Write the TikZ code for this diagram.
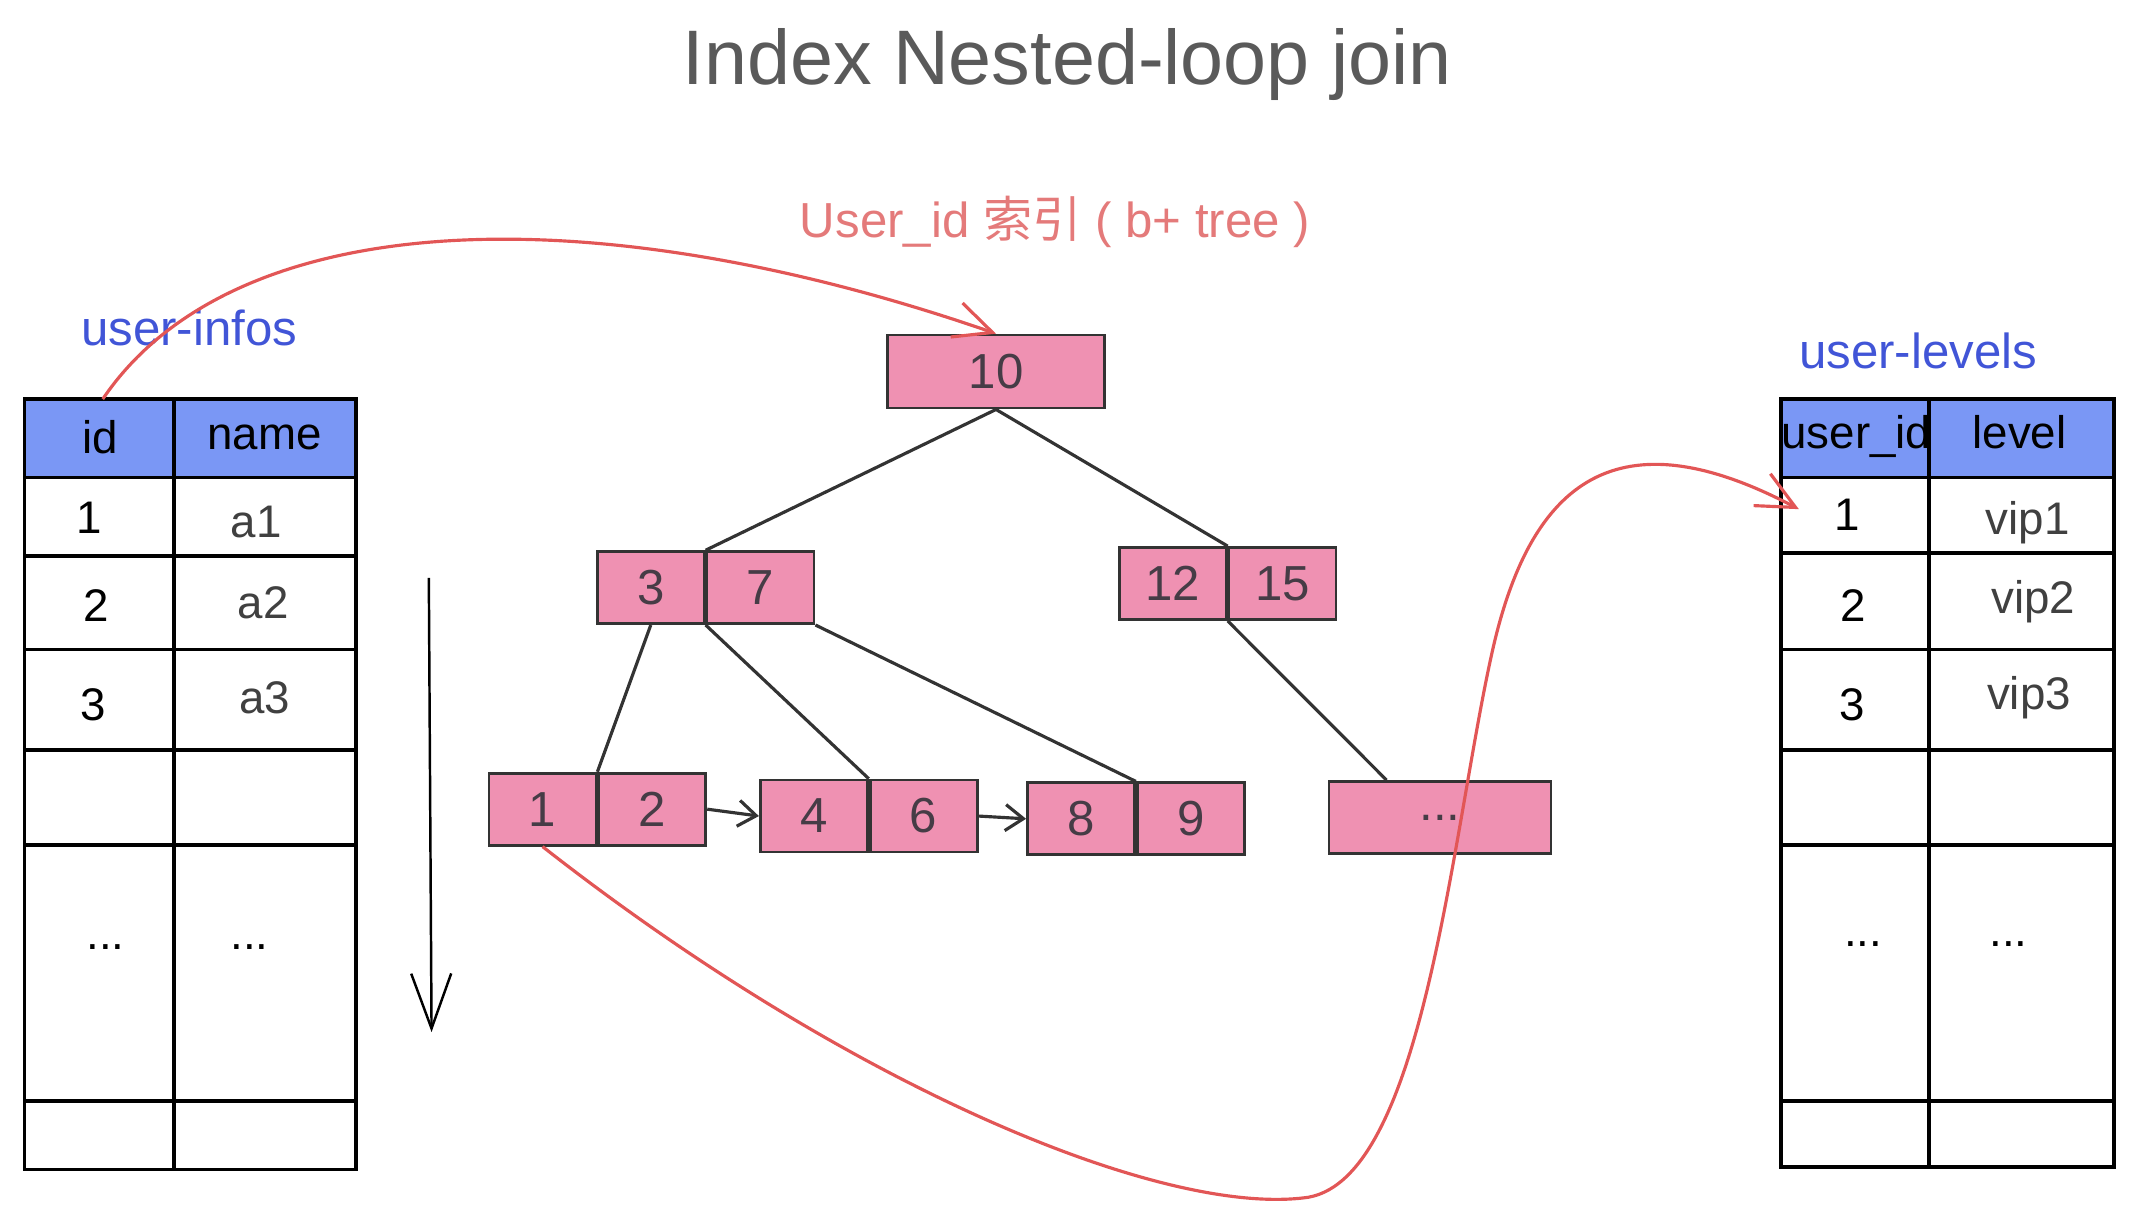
\documentclass[tikz,border=0pt]{standalone}
\usepackage{fontspec}
\setmainfont{Liberation Sans}
\newfontfamily\cjkfont{Noto Sans CJK SC}
\usepackage{xcolor}
\usetikzlibrary{positioning,arrows.meta}
\definecolor{HeadBlue}{RGB}{122,151,245}
\definecolor{KeyPink}{RGB}{239,145,178}
\definecolor{KeyText}{RGB}{70,60,70}
\definecolor{LabelBlue}{RGB}{65,85,215}
\definecolor{IdxRed}{RGB}{228,122,122}
\definecolor{CurveRed}{RGB}{226,86,86}
\definecolor{TitleGray}{RGB}{90,90,90}

\begin{document}
\begin{tikzpicture}[x=0.0137cm, y=-0.01376cm, >=Latex]
      \tikzset{
        key/.style={draw=black!80, line width=0.8pt, fill=KeyPink, minimum width=1.07cm, minimum height=0.72cm, inner sep=0pt, text=KeyText, font=\fontsize{14}{16}\selectfont},
        cellText/.style={font=\fontsize{13}{15}\selectfont, inner sep=1pt},
        cellVal/.style={cellText, text=black!75},
        tblLabel/.style={text=LabelBlue, font=\fontsize{14}{16}\selectfont},
        grid/.style={line width=1pt, draw=black},
        edge/.style={draw=black!80, line width=0.9pt},
        leafArrow/.style={-{Straight Barb[length=1.8mm, width=2.6mm]}, draw=black!80, line width=0.9pt},
        redArrow/.style={-{Straight Barb[length=3.8mm, width=3.6mm]}, draw=CurveRed, line width=0.9pt}
      }
      \useasboundingbox (0,0) rectangle (1562,880);

      \node[text=TitleGray, font=\fontsize{22}{26}\selectfont] (title) at (779,47) {Index Nested-loop join};
      \node[text=IdxRed, font=\fontsize{14}{16}\selectfont] (idxLabel) at (770,161) {User\_id {\cjkfont 索引} ( b+ tree )};

      % user-infos table
      \node[tblLabel] (infoLabel) at (138,238) {user-infos};
      \fill[HeadBlue] (18,290) rectangle (260,347);
      \draw[grid] (18,290) rectangle (260,850);
      \foreach \y in {347,404,472,545,614,800}
        \draw[grid] (18,\y) -- (260,\y);
      \draw[grid] (127,290) -- (127,850);
      \coordinate (infoTop) at (75,290);
      \node[cellText] (infoId) at (73,318) {id};
      \node[cellText] (infoName) at (193,318) {name};
      \node[cellText] (infoOne) at (65,376) {1};
      \node[cellVal] (infoA1) at (187,379) {a1};
      \node[cellText] (infoTwo) at (70,440) {2};
      \node[cellVal] (infoA2) at (192,438) {a2};
      \node[cellText] (infoThree) at (68,512) {3};
      \node[cellVal] (infoA3) at (193,507) {a3};
      \node[cellText] (infoDotsA) at (77,688) {...};
      \node[cellText] (infoDotsB) at (182,688) {...};

      % user-levels table
      \node[tblLabel] (lvlLabel) at (1400,255) {user-levels};
      \fill[HeadBlue] (1300,290) rectangle (1543,347);
      \draw[grid] (1300,290) rectangle (1543,848);
      \foreach \y in {347,402,472,545,614,800}
        \draw[grid] (1300,\y) -- (1543,\y);
      \draw[grid] (1408,290) -- (1408,848);
      \coordinate (lvlRowOne) at (1313,370);
      \node[cellText] (lvlId) at (1355,317) {user\_id};
      \node[cellText] (lvlLevel) at (1474,314) {level};
      \node[cellText] (lvlOne) at (1348,374) {1};
      \node[cellVal] (lvlV1) at (1480,380) {vip1};
      \node[cellText] (lvlTwo) at (1353,440) {2};
      \node[cellVal] (lvlV2) at (1484,437) {vip2};
      \node[cellText] (lvlThree) at (1352,512) {3};
      \node[cellVal] (lvlV3) at (1481,507) {vip3};
      \node[cellText] (lvlDotsA) at (1360,686) {...};
      \node[cellText] (lvlDotsB) at (1466,686) {...};

      % b+ tree
      \node[key, minimum width=2.17cm, minimum height=0.73cm] (root) at (727,270) {10};
      \node[key] (k3) at (475,427) {3};
      \node[key, right=0pt of k3] (k7) {7};
      \node[key] (k12) at (856,424) {12};
      \node[key, right=0pt of k12] (k15) {15};
      \node[key] (k1) at (396,588) {1};
      \node[key, right=0pt of k1] (k2) {2};
      \node[key] (k4) at (594,593) {4};
      \node[key, right=0pt of k4] (k6) {6};
      \node[key] (k8) at (789,595) {8};
      \node[key, right=0pt of k8] (k9) {9};
      \node[key, minimum width=2.22cm] (leafDots) at (1051,594) {...};

      \draw[edge] (root.south) -- (k3.north east);
      \draw[edge] (root.south) -- (k12.north east);
      \draw[edge] (k3.south) -- (k1.north east);
      \draw[edge] (k3.south east) -- (k4.north east);
      \draw[edge] (k7.south east) -- (k8.north east);
      \draw[edge] (k12.south east) -- (leafDots.145);
      \draw[leafArrow] (k2.east) -- (k4.west);
      \draw[leafArrow] (k6.east) -- (k8.west);

      % scan direction
      \coordinate (scanTop) at (313,420);
      \coordinate (scanEnd) at (315,750);
      \draw[-{Straight Barb[length=5.5mm, width=4mm]}, line width=0.7pt] (scanTop) -- (scanEnd);

      \draw[redArrow] (infoTop) .. controls (170,150) and (430,140) .. (root.north);
      \draw[redArrow] (k1.south) .. controls (620,790) and (850,885) .. (955,870)
        .. controls (1040,855) and (1060,600) .. (1090,470)
        .. controls (1118,350) and (1180,300) .. (lvlRowOne);
\end{tikzpicture}
\end{document}
